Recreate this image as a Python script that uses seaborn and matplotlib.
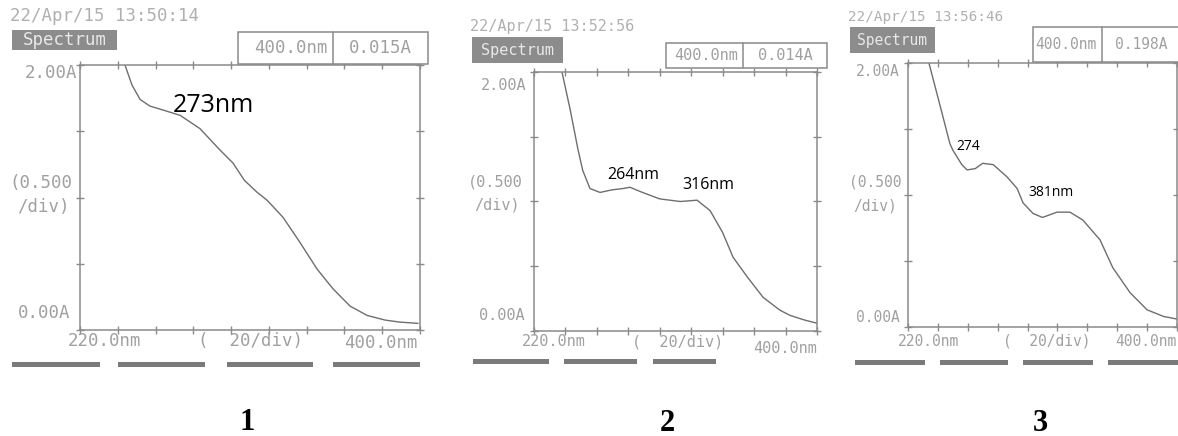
import numpy as np
import pandas as pd
import seaborn as sns
import matplotlib.pyplot as plt
from matplotlib.patches import Rectangle

# wavelength (nm) / absorbance (A)
wl_1 = [243.8, 247.5, 251.8, 257, 264, 273, 283.5, 294, 301, 307, 313.7, 319, 327.5,
        336.5, 345.5, 354, 363, 372, 381.5, 389, 399]
abs_1 = [2.00, 1.85, 1.74, 1.69, 1.66, 1.62, 1.52, 1.36, 1.26, 1.13, 1.04, 0.98, 0.85,
         0.66, 0.46, 0.31, 0.18, 0.11, 0.075, 0.06, 0.05]

wl_2 = [237.8, 243, 248, 251, 255.6, 262, 269.6, 276.6, 281, 289, 300, 313,
        323.7, 332, 340, 346.6, 355.5, 365.7, 376.5, 383, 392, 400]
abs_2 = [2.00, 1.71, 1.40, 1.24, 1.10, 1.07, 1.09, 1.10, 1.11, 1.07, 1.02, 1.00,
         1.01, 0.93, 0.76, 0.57, 0.42, 0.26, 0.16, 0.12, 0.085, 0.06]

wl_3 = [234, 241.4, 248, 250, 256, 259.5, 265, 270, 277, 286, 293, 297, 303.7,
        310, 319.7, 328.4, 337, 348.5, 357, 368.6, 380, 391, 400]
abs_3 = [2.00, 1.68, 1.39, 1.34, 1.23, 1.19, 1.20, 1.24, 1.23, 1.14, 1.05, 0.94,
         0.86, 0.83, 0.87, 0.87, 0.81, 0.66, 0.45, 0.26, 0.13, 0.08, 0.06]

stamps = ["22/Apr/15 13:50:14", "22/Apr/15 13:52:56", "22/Apr/15 13:56:46"]
readouts = ["0.015A", "0.014A", "0.198A"]
peak_labels = [["273nm"], ["264nm", "316nm"], ["274", "381nm"]]
panel_names = ["1", "2", "3"]

W, H = 1178, 436
sns.set_style("white")
plt.rcParams['font.family'] = ['DejaVu Sans Mono', 'DejaVu Sans']

fig = plt.figure(figsize=(W / 100, H / 100), dpi=100)

TXT = '#a0a0a0'
LINE = '#8a8a8a'
CURVE = '#6e6e6e'


def ftxt(x, y, s, **kw):
    kw.setdefault('color', TXT)
    kw.setdefault('va', 'center')
    fig.text(x / W, 1 - y / H, s, **kw)


def frect(x0, y0, x1, y1, **kw):
    fig.add_artist(Rectangle((x0 / W, 1 - y1 / H), (x1 - x0) / W, (y1 - y0) / H,
                             transform=fig.transFigure, **kw))


# per panel layout in pixels
panels = [
    dict(box=(80, 65, 420, 330), fs=12.5, stamp=(10, 16, 12.5),
         spec=(12, 30, 117, 50), read=(238, 32, 428, 64, 333),
         ylab=[(77, 73), (72, 183), (70, 207), (70, 313)],
         xlab=[(68, 341), (198, 341), (418, 343)],
         bars=[(12, 100), (118, 205), (227, 313), (333, 420)], bar_y=362,
         notes=[(213, 105, 18)], num=(247, 422)),
    dict(box=(534, 72, 817, 331), fs=11, stamp=(470, 27, 11),
         spec=(472, 37, 563, 63), read=(666, 43, 827, 68, 743),
         ylab=[(527, 86), (523, 182), (520, 205), (525, 316)],
         xlab=[(522, 342), (632, 342), (817, 348)],
         bars=[(473, 549), (564, 637), (653, 716)], bar_y=359,
         notes=[(633, 175, 11.5), (708, 185, 11.5)], num=(667, 423)),
    dict(box=(908, 63, 1177, 327), fs=10.5, stamp=(848, 17, 10.3),
         spec=(850, 27, 935, 53), read=(1033, 27, 1180, 62, 1102),
         ylab=[(900, 72), (902, 182), (897, 206), (900, 317)],
         xlab=[(898, 341), (1003, 341), (1177, 341)],
         bars=[(855, 925), (940, 1008), (1023, 1093), (1108, 1178)], bar_y=360,
         notes=[(968, 146, 10), (1051, 192, 10)], num=(1040, 423)),
]

curves = [(wl_1, abs_1), (wl_2, abs_2), (wl_3, abs_3)]

for i, p in enumerate(panels):
    l, t, r, b = p['box']
    ax = fig.add_axes([l / W, 1 - b / H, (r - l) / W, (b - t) / H])
    df = pd.DataFrame({'wl': curves[i][0], 'A': curves[i][1]})
    sns.lineplot(data=df, x='wl', y='A', ax=ax, color=CURVE, linewidth=1.0)
    for ln in ax.lines:
        ln.set_solid_joinstyle('round')
    ax.set_xlim(220, 400)
    ax.set_ylim(0, 2)
    ax.set_xticks(np.arange(220, 401, 20))
    ax.set_yticks(np.arange(0, 2.01, 0.5))
    ax.tick_params(direction='inout', length=6, width=1, colors=LINE,
                   top=True, right=True, bottom=True, left=True,
                   labelbottom=False, labelleft=False)
    ax.set_xlabel('')
    ax.set_ylabel('')
    for s in ax.spines.values():
        s.set_color(LINE)
        s.set_linewidth(1.1)
    ax.set_facecolor('none')

    fs = p['fs']
    sx, sy, sfs = p['stamp']
    ftxt(sx, sy, stamps[i], fontsize=sfs, ha='left', color='#b0b0b0')

    x0, y0, x1, y1 = p['spec']
    frect(x0, y0, x1, y1, facecolor='#8c8c8c', edgecolor='none')
    ftxt((x0 + x1) / 2, (y0 + y1) / 2, 'Spectrum', fontsize=fs, ha='center',
         color='#e8e8e8')

    x0, y0, x1, y1, xd = p['read']
    frect(x0, y0, x1, y1, facecolor='white', edgecolor=LINE, linewidth=1.1)
    fig.add_artist(plt.Line2D([xd / W, xd / W], [1 - y0 / H, 1 - y1 / H],
                              transform=fig.transFigure, color=LINE, lw=1.1))
    ftxt(xd - 5, (y0 + y1) / 2, '400.0nm', fontsize=fs, ha='right')
    ftxt((xd + x1) / 2, (y0 + y1) / 2, readouts[i], fontsize=fs, ha='center')

    for (x, y), s in zip(p['ylab'], ['2.00A', '(0.500', '/div)', '0.00A']):
        ftxt(x, y, s, fontsize=fs, ha='right')

    (xa, ya), (xb, yb), (xc, yc) = p['xlab']
    ftxt(xa, ya, '220.0nm', fontsize=fs, ha='left')
    ftxt(xb, yb, '(  20/div)', fontsize=fs, ha='left')
    ftxt(xc, yc, '400.0nm', fontsize=fs, ha='right')

    for bx0, bx1 in p['bars']:
        frect(bx0, p['bar_y'], bx1, p['bar_y'] + 5, facecolor='#7a7a7a',
              edgecolor='none')

    for (nx, ny, nfs), s in zip(p['notes'], peak_labels[i]):
        ftxt(nx, ny, s, fontsize=nfs, ha='center', color='black',
             family='Open Sans')

    ftxt(p['num'][0], p['num'][1], panel_names[i], fontsize=22, ha='center',
         color='black', family='Liberation Serif', weight='bold')

fig.savefig('out.png', dpi=100, facecolor='white')
